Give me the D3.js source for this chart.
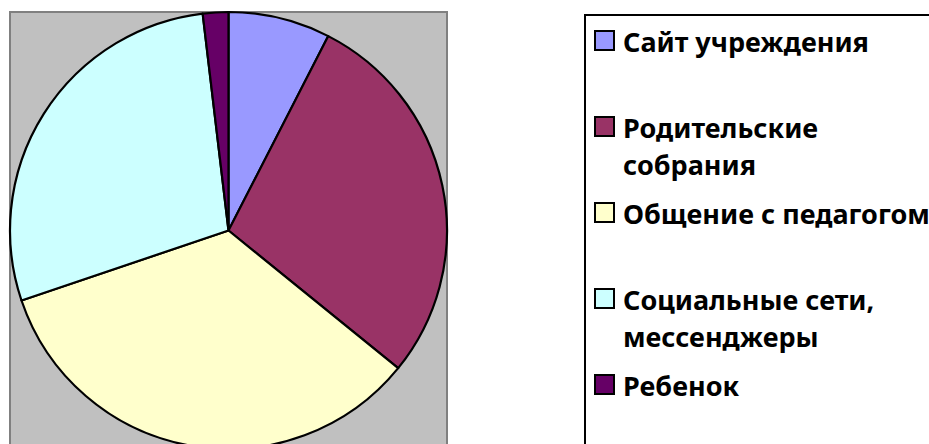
<!DOCTYPE html>
<html lang="ru">
<head>
    <meta charset="utf-8">
    <title>Источники информации</title>
    <style>
        body { margin: 0; background: #fff; }
        .legend text { font-family: "Noto Sans", sans-serif; font-weight: bold; fill: #000; }
    </style>
    <script src="https://d3js.org/d3.v7.min.js"></script>
</head>
<body>
<div id="chart"></div>
<script>
    // data (number of answers)
    const categories = ["Сайт учреждения", "Родительские собрания", "Общение с педагогом",
        "Социальные сети, мессенджеры", "Ребенок"];
    const values = [4, 15, 18, 15, 1];
    const colors = ["#9999ff", "#993366", "#ffffcc", "#ccffff", "#660066"];

    const width = 929, height = 444;

    const svg = d3.select("#chart")
        .append("svg")
        .attr("width", width)
        .attr("height", height);

    // plot area (grey box)
    const plot = {left: 10, top: 12, right: 447};
    svg.append("rect")
        .attr("x", plot.left)
        .attr("y", plot.top)
        .attr("width", plot.right - plot.left)
        .attr("height", height)
        .attr("fill", "#c0c0c0")
        .attr("stroke", "#808080")
        .attr("stroke-width", 2);

    const radius = (plot.right - plot.left) / 2;
    const cx = plot.left + radius, cy = plot.top + radius;

    const pie = d3.pie().sort(null).value(d => d.value);
    const arc = d3.arc().innerRadius(0).outerRadius(radius);
    const rows = categories.map((c, i) => ({name: c, value: values[i], color: colors[i]}));

    svg.append("g")
        .attr("transform", `translate(${cx},${cy})`)
        .selectAll("path")
        .data(pie(rows))
        .join("path")
        .attr("d", arc)
        .attr("fill", d => d.data.color)
        .attr("stroke", "#000")
        .attr("stroke-width", 2.2)
        .attr("stroke-linejoin", "round");

    // legend
    const legendBox = {left: 585, top: 15};
    svg.append("rect")
        .attr("x", legendBox.left)
        .attr("y", legendBox.top)
        .attr("width", width)
        .attr("height", height)
        .attr("fill", "#fff")
        .attr("stroke", "#000")
        .attr("stroke-width", 2);

    const fontSize = 27, lineStep = 37, wrapWidth = 330;
    const capTop = d3.scalePoint().domain(categories).range([33, 377]);

    const legend = svg.append("g").attr("class", "legend");
    const item = legend.selectAll("g")
        .data(rows)
        .join("g")
        .attr("transform", d => `translate(0,${capTop(d.name)})`);

    item.append("rect")
        .attr("x", 595)
        .attr("y", -2)
        .attr("width", 19)
        .attr("height", 19)
        .attr("fill", d => d.color)
        .attr("stroke", "#000")
        .attr("stroke-width", 2);

    item.each(function (d) {
        const g = d3.select(this);
        const text = g.append("text")
            .attr("x", 623)
            .attr("font-size", fontSize + "px");
        // simple word wrap
        const words = d.name.split(" ");
        let line = [], lineNo = 0;
        let tspan = text.append("tspan").attr("x", 623).attr("y", fontSize * 0.72);
        words.forEach(w => {
            line.push(w);
            tspan.text(line.join(" "));
            if (tspan.node().getComputedTextLength() > wrapWidth && line.length > 1) {
                line.pop();
                tspan.text(line.join(" "));
                line = [w];
                lineNo++;
                tspan = text.append("tspan")
                    .attr("x", 623)
                    .attr("y", fontSize * 0.72 + lineNo * lineStep)
                    .text(w);
            }
        });
    });
</script>
</body>
</html>
